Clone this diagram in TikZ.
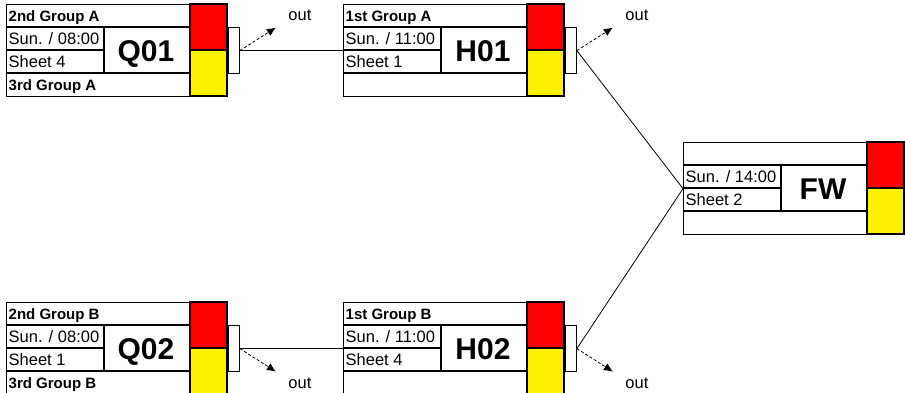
\documentclass[tikz,border=0pt]{standalone}
\usepackage{fontspec}
\setmainfont{Liberation Sans}
\usetikzlibrary{arrows.meta}
\begin{document}
\begin{tikzpicture}
	[x=1pt, y=-1pt,
	box/.style={draw, line width=1.2pt, minimum width=221pt, minimum height=92pt, inner sep=0pt, anchor=north west},
	sidebox/.style={draw, line width=1.2pt, minimum width=10.5pt, minimum height=46pt, inner sep=0pt, anchor=west},
	cell/.style={line width=1.2pt},
	grouptext/.style={anchor=base west, inner sep=0pt, font=\fontsize{15}{18}\selectfont\bfseries},
	infotext/.style={anchor=base west, inner sep=0pt, font=\fontsize{16.5}{19}\selectfont},
	idtext/.style={anchor=base, inner sep=0pt, font=\fontsize{30}{34}\selectfont\bfseries},
	link/.style={line width=0.8pt},
	outarrow/.style={-{Latex[length=9pt,width=8pt]}, densely dashed, line width=0.8pt}]
	
	\useasboundingbox (0,0) rectangle (905,392);

	% Draw match boxes
	\foreach \boxid/\px/\py/\grpA/\slot/\sheet/\grpB in
		{Q01/6/4/{2nd Group A}/{Sun. / 08:00}/{Sheet 4}/{3rd Group A},
		 H01/343/4/{1st Group A}/{Sun. / 11:00}/{Sheet 1}/{},
		 Q02/6/302/{2nd Group B}/{Sun. / 08:00}/{Sheet 1}/{3rd Group B},
		 H02/343/302/{1st Group B}/{Sun. / 11:00}/{Sheet 4}/{},
		 FW/683/142/{}/{Sun. / 14:00}/{Sheet 2}/{}}
		{
			\filldraw[cell, fill=red] (\px+184,\py) rectangle (\px+221,\py+46);
			\filldraw[cell, fill=yellow] (\px+184,\py+46) rectangle (\px+221,\py+92);
			\node[box] (\boxid) at (\px,\py) {};
			\draw[cell] (\px,\py+23) -- (\px+184,\py+23);
			\draw[cell] (\px,\py+69) -- (\px+184,\py+69);
			\draw[cell] (\px,\py+46) -- (\px+98,\py+46);
			\draw[cell] (\px+98,\py+23) -- (\px+98,\py+69);
			\node[grouptext] (\boxid-grpA) at (\px+2.5,\py+17.5) {\grpA};
			\node[infotext] (\boxid-slot) at (\px+2.5,\py+40.5) {\slot};
			\node[infotext] (\boxid-sheet) at (\px+2.5,\py+63.5) {\sheet};
			\node[grouptext] (\boxid-grpB) at (\px+2.5,\py+86.5) {\grpB};
			\node[idtext] (\boxid-id) at (\px+140,\py+57) {\boxid};
		}

	% Create side boxes
	\foreach \boxid in {Q01,H01,Q02,H02}
		\node[sidebox] (\boxid-side) at (\boxid.east) {};

	% Draw links
	\draw[link] (Q01-side.east) -- (H01.west);
	\draw[link] (Q02-side.east) -- (H02.west);
	\draw[link] (H01-side.east) -- (FW.west);
	\draw[link] (H02-side.east) -- (FW.west);

	% Draw out arrows
	\foreach \boxid/\dy in {Q01/-1,H01/-1,Q02/1,H02/1}
		{
			\coordinate (\boxid-tip) at ([shift={(36,23*\dy)}]\boxid-side.east);
			\draw[outarrow] (\boxid-side.east) -- (\boxid-tip);
			\node[infotext, anchor=center] (\boxid-out) at ([shift={(24,12*\dy)}]\boxid-tip) {out};
		}
\end{tikzpicture}
\end{document}
